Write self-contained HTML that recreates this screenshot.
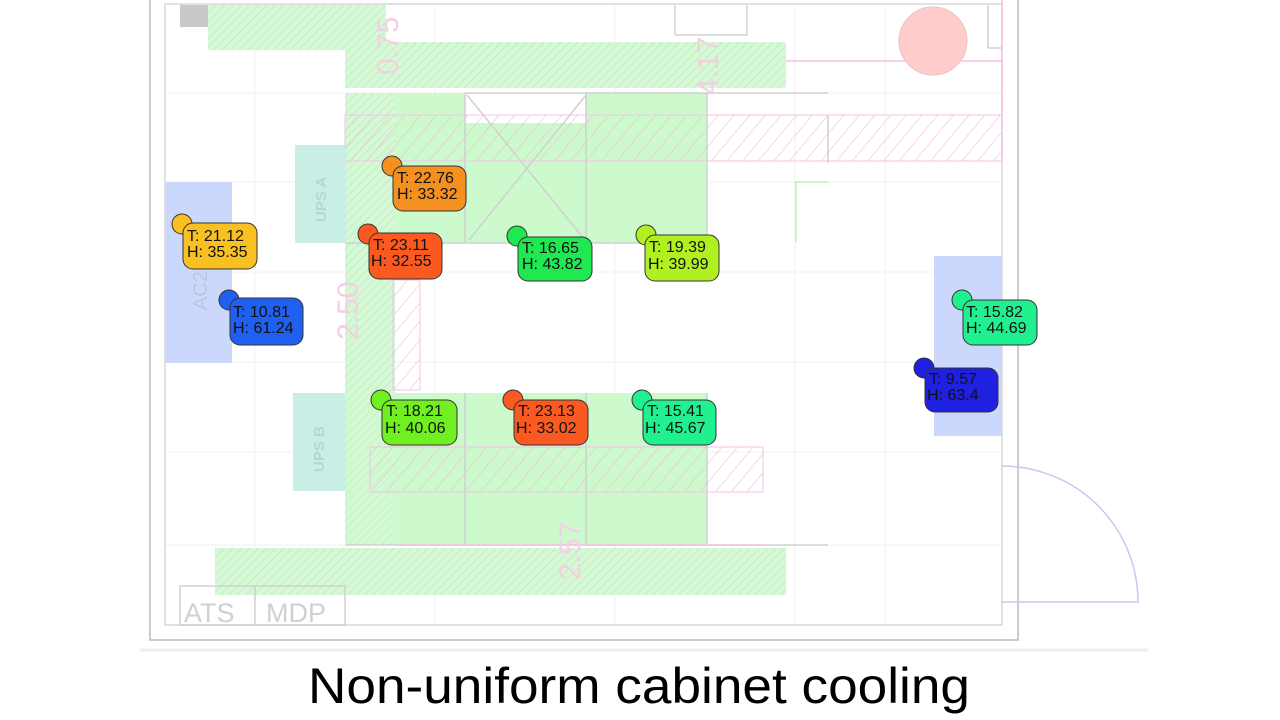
<!DOCTYPE html>
<html><head><meta charset="utf-8"><style>
html,body{margin:0;padding:0;background:#fff;width:1280px;height:720px;overflow:hidden}
svg{display:block}
</style></head><body>
<svg width="1280" height="720" viewBox="0 0 1280 720" xmlns="http://www.w3.org/2000/svg" font-family="Liberation Sans, sans-serif">
<defs>
<pattern id="gh" width="6" height="6" patternUnits="userSpaceOnUse" patternTransform="rotate(45)"><rect width="6" height="6" fill="#d6f8d6"/><line x1="0" y1="0" x2="0" y2="6" stroke="#b8ecb8" stroke-width="1.5"/></pattern>
<pattern id="ph" width="12" height="12" patternUnits="userSpaceOnUse" patternTransform="rotate(40)"><line x1="0" y1="0" x2="0" y2="12" stroke="#f4b8e0" stroke-width="1.2"/></pattern>
</defs>
<rect x="140" y="0" width="1008" height="650" fill="#fff"/>
<rect x="0" y="650" width="1280" height="70" fill="#fff"/>
<line x1="140" y1="650" x2="1148" y2="650" stroke="#eee" stroke-width="3"/>
<!-- grid -->
<g stroke="#f0f0f0" stroke-width="1">
<line x1="165" y1="93" x2="1002" y2="93"/><line x1="165" y1="182" x2="1002" y2="182"/><line x1="165" y1="272" x2="1002" y2="272"/><line x1="165" y1="362" x2="1002" y2="362"/><line x1="165" y1="452" x2="1002" y2="452"/><line x1="165" y1="545" x2="1002" y2="545"/>
<line x1="255" y1="5" x2="255" y2="625"/><line x1="435" y1="5" x2="435" y2="625"/><line x1="615" y1="5" x2="615" y2="625"/><line x1="795" y1="5" x2="795" y2="625"/><line x1="885" y1="5" x2="885" y2="625"/>
</g>
<!-- walls -->
<rect x="150" y="-2" width="868" height="642" fill="none" stroke="#ccc" stroke-width="2"/>
<rect x="165" y="4" width="837" height="621" fill="none" stroke="#d8d8d8" stroke-width="1.5"/>
<rect x="180" y="5" width="28" height="22" fill="#c8c8c8"/>
<!-- blue AC zones -->
<rect x="165" y="182" width="67" height="181" fill="#ccd8fb"/>
<text x="0" y="0" transform="translate(207,310) rotate(-90)" font-size="20" fill="#bbc6e0">AC2</text>
<rect x="934" y="256" width="68" height="180" fill="#ccd8fb"/>
<!-- green structures -->
<rect x="208" y="5" width="178" height="45" fill="url(#gh)"/>
<rect x="345" y="42" width="441" height="46" fill="url(#gh)"/>
<rect x="345" y="93" width="362" height="150" fill="#ccfacc"/>
<rect x="345" y="93" width="50" height="452" fill="url(#gh)"/>
<rect x="345" y="393" width="362" height="152" fill="#ccfacc"/>
<rect x="345" y="393" width="50" height="152" fill="url(#gh)" opacity="0.6"/>
<rect x="215" y="548" width="571" height="47" fill="url(#gh)"/>
<rect x="465" y="93" width="121" height="30" fill="#fff"/>
<g stroke="#d0d0d0" stroke-width="1.5" fill="none">
<line x1="465" y1="93" x2="465" y2="243"/><line x1="586" y1="93" x2="586" y2="243"/>
<line x1="465" y1="393" x2="465" y2="545"/><line x1="586" y1="393" x2="586" y2="545"/>
<line x1="707" y1="93" x2="707" y2="243"/><line x1="707" y1="393" x2="707" y2="545"/>
<line x1="345" y1="243" x2="707" y2="243"/><line x1="345" y1="545" x2="828" y2="545"/>
<line x1="465" y1="93" x2="828" y2="93"/>
<line x1="467" y1="95" x2="585" y2="240"/><line x1="586" y1="95" x2="469" y2="240"/>
<line x1="828" y1="115" x2="828" y2="163"/>
<line x1="675" y1="5" x2="675" y2="35"/><line x1="675" y1="35" x2="747" y2="35"/><line x1="747" y1="5" x2="747" y2="35"/>
<line x1="988" y1="5" x2="988" y2="48"/><line x1="988" y1="48" x2="1002" y2="48"/>
</g>
<polyline points="796,242 796,182 828,182" fill="none" stroke="#bdf0bd" stroke-width="1.5"/>
<!-- pink hatches -->
<rect x="345" y="115" width="657" height="46" fill="url(#ph)" stroke="#f6c0e6" stroke-width="1"/>
<rect x="370" y="447" width="393" height="45" fill="url(#ph)" stroke="#f6c0e6" stroke-width="1"/>
<rect x="393" y="280" width="27" height="110" fill="url(#ph)" stroke="#f6c0e6" stroke-width="1"/>
<line x1="1002" y1="0" x2="1002" y2="160" stroke="#f6c0e6" stroke-width="1.5"/>
<line x1="786" y1="61" x2="1002" y2="61" stroke="#f6c0e6" stroke-width="1.5"/>
<line x1="395" y1="545" x2="763" y2="545" stroke="#f6c0e6" stroke-width="1.5"/>
<text transform="translate(398,75) rotate(-90)" font-size="30" fill="#f4cfe4">0.75</text>
<text transform="translate(718,95) rotate(-90)" font-size="30" fill="#f4cfe4">4.17</text>
<text transform="translate(358,340) rotate(-90)" font-size="30" fill="#f4cfe4">2.50</text>
<text transform="translate(580,580) rotate(-90)" font-size="30" fill="#f4cfe4">2.57</text>
<!-- UPS -->
<rect x="295" y="145" width="50" height="98" fill="#c8eee6"/>
<text transform="translate(326,222) rotate(-90)" font-size="15" fill="#b4d8d0" font-weight="bold">UPS A</text>
<rect x="293" y="393" width="52" height="98" fill="#c8eee6"/>
<text transform="translate(324,472) rotate(-90)" font-size="15" fill="#b4d8d0" font-weight="bold">UPS B</text>
<!-- circle -->
<circle cx="933" cy="41" r="34" fill="#ffcccc" stroke="#e6c4c4"/>
<!-- ATS MDP -->
<rect x="180" y="586" width="165" height="39" fill="none" stroke="#d0d0d0" stroke-width="1.5"/>
<line x1="255" y1="586" x2="255" y2="625" stroke="#d0d0d0" stroke-width="1.5"/>
<text x="184" y="622" font-size="27" fill="#d0d0d0">ATS</text>
<text x="266" y="622" font-size="27" fill="#d0d0d0">MDP</text>
<!-- door -->
<path d="M1002,466 A136,136 0 0 1 1138,602 L1002,602" fill="none" stroke="#c8c8f0" stroke-width="1.5"/>
<!-- sensors -->
<g font-size="16" stroke="#333" stroke-width="1">
<g><circle cx="392" cy="166" r="10" fill="#f39020"/><rect x="393" y="166" width="73" height="45" rx="10" fill="#f39020"/><text x="397" y="183" stroke="none" fill="#111">T: 22.76</text><text x="397" y="199" stroke="none" fill="#111">H: 33.32</text></g>
<g><circle cx="182" cy="224" r="10" fill="#f8c020"/><rect x="183" y="223" width="74" height="46" rx="10" fill="#f8c020"/><text x="187" y="241" stroke="none" fill="#111">T: 21.12</text><text x="187" y="257" stroke="none" fill="#111">H: 35.35</text></g>
<g><circle cx="368" cy="234" r="10" fill="#fa5a20"/><rect x="369" y="233" width="73" height="46" rx="10" fill="#fa5a20"/><text x="373" y="250" stroke="none" fill="#111">T: 23.11</text><text x="371" y="266" stroke="none" fill="#111">H: 32.55</text></g>
<g><circle cx="517" cy="236" r="10" fill="#20e850"/><rect x="518" y="237" width="74" height="44" rx="10" fill="#20e850"/><text x="522" y="253" stroke="none" fill="#111">T: 16.65</text><text x="522" y="269" stroke="none" fill="#111">H: 43.82</text></g>
<g><circle cx="646" cy="235" r="10" fill="#b0f020"/><rect x="645" y="235" width="74" height="46" rx="10" fill="#b0f020"/><text x="649" y="252" stroke="none" fill="#111">T: 19.39</text><text x="648" y="269" stroke="none" fill="#111">H: 39.99</text></g>
<g><circle cx="229" cy="300" r="10" fill="#2060f0"/><rect x="230" y="298" width="73" height="47" rx="10" fill="#2060f0"/><text x="233" y="317" stroke="none" fill="#111">T: 10.81</text><text x="233" y="333" stroke="none" fill="#111">H: 61.24</text></g>
<g><circle cx="962" cy="300" r="10" fill="#20f090"/><rect x="963" y="300" width="74" height="45" rx="10" fill="#20f090"/><text x="966" y="317" stroke="none" fill="#111">T: 15.82</text><text x="966" y="333" stroke="none" fill="#111">H: 44.69</text></g>
<g><circle cx="924" cy="368" r="10" fill="#2020e0"/><rect x="925" y="368" width="73" height="44" rx="10" fill="#2020e0"/><text x="929" y="384" stroke="none" fill="#111">T: 9.57</text><text x="927" y="400" stroke="none" fill="#111">H: 63.4</text></g>
<g><circle cx="381" cy="400" r="10" fill="#70f020"/><rect x="382" y="400" width="75" height="45" rx="10" fill="#70f020"/><text x="386" y="416" stroke="none" fill="#111">T: 18.21</text><text x="385" y="433" stroke="none" fill="#111">H: 40.06</text></g>
<g><circle cx="513" cy="400" r="10" fill="#fa5a20"/><rect x="514" y="400" width="74" height="45" rx="10" fill="#fa5a20"/><text x="518" y="416" stroke="none" fill="#111">T: 23.13</text><text x="516" y="433" stroke="none" fill="#111">H: 33.02</text></g>
<g><circle cx="642" cy="400" r="10" fill="#20f090"/><rect x="643" y="400" width="73" height="45" rx="10" fill="#20f090"/><text x="647" y="416" stroke="none" fill="#111">T: 15.41</text><text x="645" y="433" stroke="none" fill="#111">H: 45.67</text></g>
</g>
<text x="308" y="703" font-size="50" fill="#000" textLength="662" lengthAdjust="spacingAndGlyphs">Non-uniform cabinet cooling</text>
</svg>
</body></html>
